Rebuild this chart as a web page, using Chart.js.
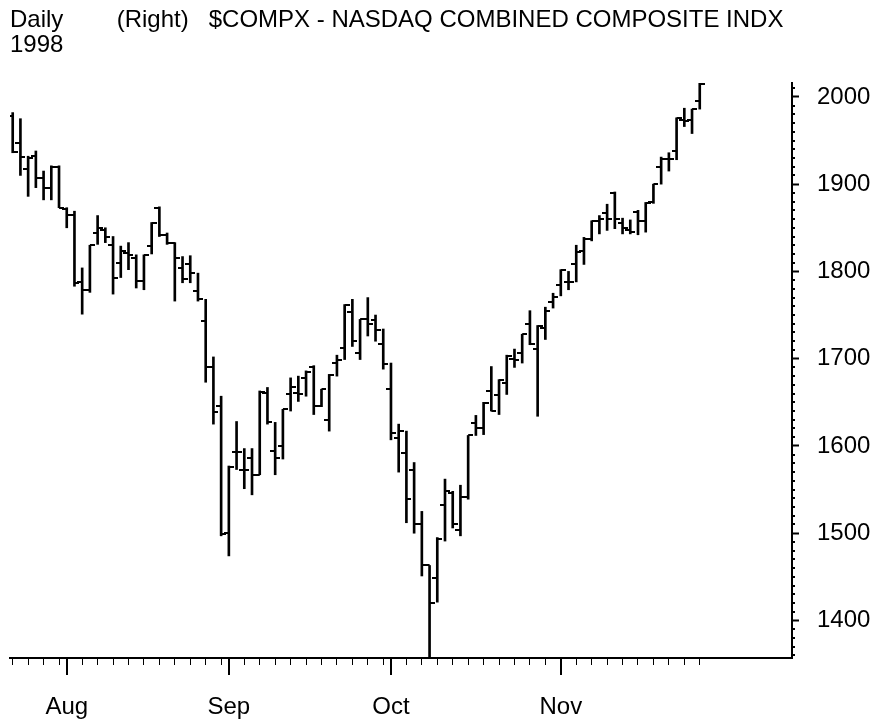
<!DOCTYPE html>
<html>
<head>
<meta charset="utf-8">
<script src="https://cdn.jsdelivr.net/npm/chart.js@4.4.1/dist/chart.umd.min.js"></script>
<style>
  html, body { margin: 0; padding: 0; background: #fff; }
</style>
</head>
<body>
<canvas id="chart" width="874" height="721"></canvas>
<script>
// trading days, 23 Jul - 27 Nov 1998
const days = [
  '07/23','07/24','07/27','07/28','07/29','07/30','07/31',
  '08/03','08/04','08/05','08/06','08/07','08/10','08/11','08/12','08/13','08/14',
  '08/17','08/18','08/19','08/20','08/21','08/24','08/25','08/26','08/27','08/28','08/31',
  '09/01','09/02','09/03','09/04','09/08','09/09','09/10','09/11','09/14','09/15','09/16',
  '09/17','09/18','09/21','09/22','09/23','09/24','09/25','09/28','09/29','09/30',
  '10/01','10/02','10/05','10/06','10/07','10/08','10/09','10/12','10/13','10/14','10/15',
  '10/16','10/19','10/20','10/21','10/22','10/23','10/26','10/27','10/28','10/29','10/30',
  '11/02','11/03','11/04','11/05','11/06','11/09','11/10','11/11','11/12','11/13',
  '11/16','11/17','11/18','11/19','11/20','11/23','11/24','11/25','11/27'
];
const opens = [
  1978,1947,1917,1932,1907,1896,1920,
  1871,1865,1788,1779,1844,1848,1830,1810,1821,1815,
  1789,1829,1873,1842,1832,1804,1808,1777,1743,1690,1646,
  1500,1593,1573,1586,1567,1661,1594,1600,1660,1661,1678,
  1690,1646,1630,1695,1712,1754,1706,1745,1744,1717,
  1665,1609,1592,1573,1511,1463,1449,1532,1546,1504,1542,
  1626,1620,1663,1658,1672,1700,1706,1740,1711,1735,1765,
  1784,1788,1809,1823,1837,1858,1867,1890,1856,1848,
  1868,1858,1879,1920,1929,1938,1974,1973,1995
];
const highs = [
  1982,1975,1932,1938,1915,1921,1921,
  1873,1869,1804,1830,1864,1850,1840,1829,1833,1819,
  1819,1856,1874,1844,1833,1817,1818,1798,1768,1702,1657,
  1577,1628,1597,1597,1663,1667,1627,1642,1678,1680,1686,
  1692,1665,1682,1704,1762,1768,1745,1770,1750,1734,
  1695,1625,1617,1581,1525,1463,1495,1562,1548,1555,1612,
  1635,1650,1691,1676,1704,1711,1728,1755,1738,1759,1775,
  1802,1800,1830,1839,1858,1864,1877,1891,1861,1859,
  1870,1879,1900,1931,1936,1976,1987,1986,2016
];
const lows = [
  1936,1910,1886,1896,1882,1882,1873,
  1850,1783,1751,1776,1831,1833,1774,1793,1802,1781,
  1779,1820,1840,1831,1766,1787,1787,1766,1673,1625,1497,
  1474,1573,1551,1544,1567,1625,1567,1585,1640,1651,1657,
  1636,1645,1617,1680,1699,1714,1699,1726,1720,1688,
  1607,1570,1512,1500,1451,1357,1421,1491,1506,1497,1539,
  1612,1613,1640,1636,1659,1690,1695,1716,1634,1722,1758,
  1772,1779,1788,1808,1835,1843,1847,1849,1843,1843,
  1842,1845,1878,1900,1915,1928,1966,1958,1986
];
const closes = [
  1937,1931,1930,1907,1896,1920,1873,
  1865,1787,1779,1830,1850,1839,1793,1823,1819,1789,
  1819,1855,1842,1832,1815,1791,1798,1768,1690,1639,1499,
  1576,1593,1573,1567,1662,1627,1586,1642,1667,1660,1685,
  1646,1665,1681,1699,1761,1720,1745,1740,1733,1694,
  1615,1617,1539,1510,1463,1420,1493,1548,1511,1541,1612,
  1621,1649,1640,1676,1703,1699,1728,1717,1738,1755,1771,
  1802,1788,1822,1837,1858,1860,1860,1860,1850,1845,
  1858,1878,1900,1929,1929,1976,1972,1986,2015
];
const monthNames = { '08': 'Aug', '09': 'Sep', '10': 'Oct', '11': 'Nov' };
const priceLabels = [1400, 1500, 1600, 1700, 1800, 1900, 2000];

// first trading day of each month, and a small tick every second day after it
const monthStarts = days.map((d, i) => i).filter(i => i > 0 && days[i].slice(0, 2) !== days[i - 1].slice(0, 2));
const xTicks = [];
[0].concat(monthStarts).forEach((s, k, arr) => {
  const end = k + 1 < arr.length ? arr[k + 1] : days.length;
  for (let i = s; i < end; i += 2) xTicks.push(i);
});
monthStarts.forEach(i => { if (!xTicks.includes(i)) xTicks.push(i); });
xTicks.sort((a, b) => a - b);

const FONT = "'Liberation Sans', Arial, sans-serif";

function tickImage(side) {
  const c = document.createElement('canvas');
  c.width = 10; c.height = 2;
  const g = c.getContext('2d');
  g.fillStyle = '#000';
  g.fillRect(side === 'left' ? 0 : 5, 0, 5, 2);
  return c;
}

const extraTicks = {
  id: 'extraTicks',
  afterDraw(chart) {
    const { ctx, scales: { x, y } } = chart;
    ctx.save();
    ctx.fillStyle = '#000';
    monthStarts.forEach(i => {
      const px = Math.round(x.getPixelForValue(i));
      ctx.fillRect(px - 1, x.top, 2, 17);
    });
    y.ticks.forEach(t => {
      if (priceLabels.includes(t.value)) return;
      const py = Math.round(y.getPixelForValue(t.value));
      ctx.fillRect(y.left, py - 1, 3, 2);
    });
    ctx.restore();
  }
};

new Chart(document.getElementById('chart'), {
  data: {
    datasets: [
      {
        type: 'bar',
        data: days.map((d, i) => ({ x: i, y: [lows[i], highs[i]] })),
        backgroundColor: '#000',
        borderWidth: 0,
        barThickness: 2
      },
      {
        type: 'line',
        data: days.map((d, i) => ({ x: i, y: opens[i] })),
        showLine: false,
        pointStyle: tickImage('left'),
        pointRadius: 5
      },
      {
        type: 'line',
        data: days.map((d, i) => ({ x: i, y: closes[i] })),
        showLine: false,
        pointStyle: tickImage('right'),
        pointRadius: 5
      }
    ]
  },
  plugins: [extraTicks],
  options: {
    responsive: false,
    devicePixelRatio: 1,
    animation: false,
    events: [],
    layout: { padding: { left: 10, right: 0, top: 0, bottom: 0 } },
    plugins: {
      legend: { display: false },
      tooltip: { enabled: false },
      title: {
        display: true,
        align: 'start',
        text: ['Daily        (Right)   $COMPX - NASDAQ COMBINED COMPOSITE INDX', '1998'],
        color: '#000',
        font: { family: FONT, size: 24, weight: 'normal', lineHeight: 1.04 },
        padding: { top: 8, bottom: 25 }
      }
    },
    scales: {
      x: {
        type: 'linear',
        offset: false,
        min: -0.35,
        max: 100.95,
        afterFit(scale) {
          scale.height = 63;
          scale.paddingLeft = 0;
          scale.paddingRight = 0;
        },
        afterBuildTicks(scale) { scale.ticks = xTicks.map(v => ({ value: v })); },
        grid: { drawOnChartArea: false, offset: false, tickLength: 7, tickColor: '#000', tickWidth: 1 },
        border: { color: '#000', width: 2 },
        ticks: {
          autoSkip: false,
          maxRotation: 0,
          padding: 28,
          color: '#000',
          font: { family: FONT, size: 24 },
          callback: v => monthStarts.includes(v) ? monthNames[days[v].slice(0, 2)] : ''
        }
      },
      y: {
        position: 'right',
        min: Math.min(...lows),
        max: Math.max(...highs),
        afterFit(scale) {
          scale.width = 82;
          scale.paddingTop = 0;
          scale.paddingBottom = 0;
        },
        afterBuildTicks(scale) {
          const t = [];
          for (let v = Math.ceil(scale.min / 10) * 10; v <= scale.max; v += 10) t.push({ value: v });
          scale.ticks = t;
        },
        grid: {
          drawOnChartArea: false,
          tickLength: 7,
          tickWidth: 2,
          tickColor: c => priceLabels.includes(c.tick.value) ? '#000' : 'rgba(0,0,0,0)'
        },
        border: { color: '#000', width: 2 },
        ticks: {
          autoSkip: false,
          padding: 18,
          color: '#000',
          font: { family: FONT, size: 24 },
          callback: v => priceLabels.includes(v) ? String(v) : ''
        }
      }
    }
  }
});
</script>
</body>
</html>
